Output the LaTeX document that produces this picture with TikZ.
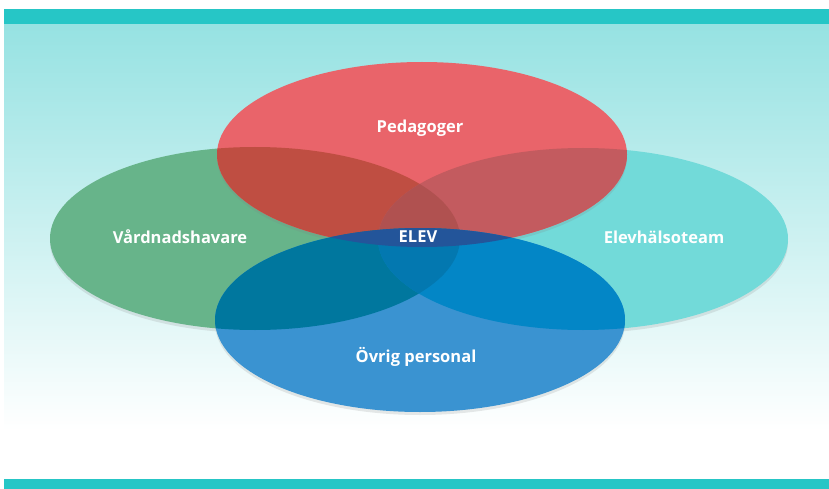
\documentclass[tikz,border=0pt]{standalone}
\usepackage{fontspec}
\setmainfont{Open Sans}
\usetikzlibrary{shapes,shadows}

\definecolor{barteal}{HTML}{26C6C6}
\definecolor{bgteal}{HTML}{96E2E2}
\definecolor{pedred}{HTML}{E9646A}
\definecolor{vardgreen}{HTML}{67B48A}
\definecolor{elevteal}{HTML}{72DAD9}
\definecolor{ovrigblue}{HTML}{3A93D1}
\definecolor{pedvard}{HTML}{BF4E42}
\definecolor{pedelev}{HTML}{C35B5F}
\definecolor{ovrigvard}{HTML}{00779E}
\definecolor{ovrigelev}{HTML}{0386C6}
\definecolor{pedmid}{HTML}{B05150}
\definecolor{ovrigmid}{HTML}{0378B0}
\definecolor{elevblue}{HTML}{23559A}

% the four circles of the diagram
\newcommand{\pedpath}{(422,154.5) ellipse [x radius=205, y radius=92.5]}
\newcommand{\vardpath}{(255,238.5) ellipse [x radius=205, y radius=91.5]}
\newcommand{\hlsapath}{(583,239) ellipse [x radius=205, y radius=91]}
\newcommand{\ovrigpath}{(420,320) ellipse [x radius=205, y radius=92]}

\begin{document}
\begin{tikzpicture}[x=1pt,y=-1pt,
    label/.style={text=white,inner sep=0pt,anchor=base,
      font=\bfseries\fontsize{16.5}{19}\selectfont},
    shadowed/.style={drop shadow={opacity=0.18,shadow xshift=0pt,shadow yshift=-3pt}}]
        \useasboundingbox (0,0) rectangle (829,489);
        % background
        \shade [top color=bgteal,bottom color=white] (4,24) rectangle (829,430);
        \fill [barteal] (4,9.5) rectangle (829,24);
        \fill [barteal] (4,479) rectangle (829,489);
        % circles
        \fill [vardgreen,shadowed] \vardpath;
        \fill [elevteal,shadowed] \hlsapath;
        \fill [ovrigblue,shadowed] \ovrigpath;
        \fill [pedred,shadowed] \pedpath;
        % overlaps
        \begin{scope}
          \clip \pedpath;
          \fill [pedvard] \vardpath;
          \fill [pedelev] \hlsapath;
        \end{scope}
        \begin{scope}
          \clip \ovrigpath;
          \fill [ovrigvard] \vardpath;
          \fill [ovrigelev] \hlsapath;
        \end{scope}
        \begin{scope}
          \clip \vardpath;
          \clip \hlsapath;
          \fill [pedmid] \pedpath;
          \fill [ovrigmid] \ovrigpath;
        \end{scope}
        \begin{scope}
          \clip \pedpath;
          \fill [elevblue] \ovrigpath;
        \end{scope}
        % labels
        \node [label] (ped) at (420,133) {Pedagoger};
        \node [label] (vard) at (180,243) {Vårdnadshavare};
        \node [label] (hlsa) at (664,243) {Elevhälsoteam};
        \node [label] (ovrig) at (416,362) {Övrig personal};
        \node [label] (elev) at (418,242) {ELEV};
\end{tikzpicture}
\end{document}
